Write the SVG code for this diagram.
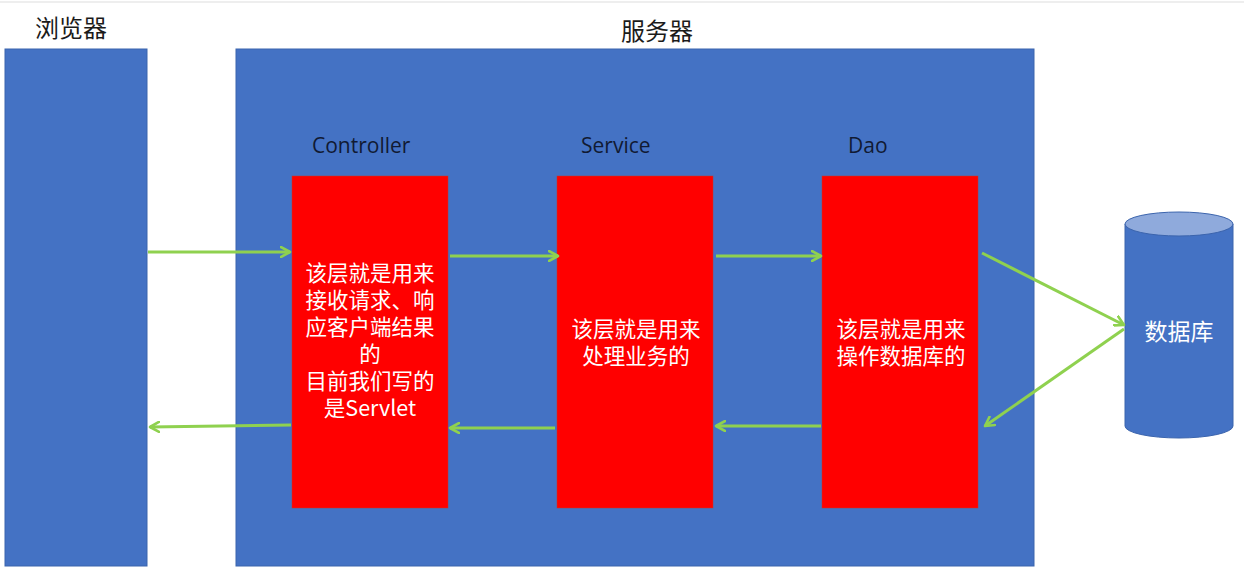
<svg xmlns="http://www.w3.org/2000/svg" width="1244" height="572" viewBox="0 0 1244 572">
<style>
.blue{fill:#4472c4;stroke:#3b64ad;stroke-width:1}
.red{fill:#ff0000;stroke:#c0392b;stroke-width:0.5}
.hdr{font-family:"Liberation Sans","Noto Sans CJK SC",sans-serif;font-size:24px;fill:#1b1b1b}
.lbl{font-family:"Open Sans","Liberation Sans",sans-serif;font-size:21px;fill:#111a33}
.wt{font-family:"Noto Sans CJK SC",sans-serif;font-size:21.5px;fill:#ffffff;text-anchor:middle}
.arr{stroke:#8fd14f;stroke-width:3;fill:none;marker-end:url(#ah)}
</style>
<defs>
<marker id="ah" viewBox="0 0 12 12" refX="10" refY="6" markerWidth="12" markerHeight="12" markerUnits="userSpaceOnUse" orient="auto">
<polyline points="1,1 10,6 1,11" fill="none" stroke="#8fd14f" stroke-width="2.6" stroke-linecap="round" stroke-linejoin="round"/>
</marker>
</defs>
<rect x="0" y="0" width="1244" height="572" fill="#ffffff"/>
<line x1="0" y1="2" x2="1244" y2="2" stroke="#eeeeee" stroke-width="2"/>
<g id="browser">
<rect class="blue" x="5" y="49" width="142" height="517"/>
<text class="hdr" x="35" y="37">浏览器</text>
</g>
<g id="server">
<rect class="blue" x="236" y="49" width="798" height="517"/>
<text class="hdr" x="621" y="40">服务器</text>
</g>
<g id="controller">
<text class="lbl" x="312" y="153">Controller</text>
<rect class="red" x="292" y="176" width="156" height="332"/>
<text class="wt" x="370" y="281">该层就是用来</text>
<text class="wt" x="370" y="308">接收请求、响</text>
<text class="wt" x="370" y="335">应客户端结果</text>
<text class="wt" x="370" y="362">的</text>
<text class="wt" x="370" y="389">目前我们写的</text>
<text class="wt" x="370" y="416">是Servlet</text>
</g>
<g id="service">
<text class="lbl" x="581" y="153">Service</text>
<rect class="red" x="557" y="176" width="156" height="332"/>
<text class="wt" x="636" y="337">该层就是用来</text>
<text class="wt" x="636" y="364">处理业务的</text>
</g>
<g id="dao">
<text class="lbl" x="848" y="153">Dao</text>
<rect class="red" x="822" y="176" width="156" height="332"/>
<text class="wt" x="901" y="337">该层就是用来</text>
<text class="wt" x="901" y="364">操作数据库的</text>
</g>
<g id="database">
<path d="M1125,224 L1125,426 A54,12 0 0 0 1233,426 L1233,224" fill="#4472c4" stroke="#3b64ad" stroke-width="1"/>
<ellipse cx="1179" cy="224" rx="54" ry="12" fill="#8faadc" stroke="#3b64ad" stroke-width="1"/>
<text x="1179" y="340" font-family="Noto Sans CJK SC,sans-serif" font-size="23" fill="#ffffff" text-anchor="middle">数据库</text>
</g>
<g id="connectors">
<line class="arr" x1="148" y1="252" x2="290" y2="252"/>
<line class="arr" x1="450" y1="256" x2="558" y2="256"/>
<line class="arr" x1="716" y1="256" x2="821" y2="256"/>
<line class="arr" x1="982" y1="253" x2="1124" y2="325"/>
<line class="arr" x1="1124" y1="329" x2="985" y2="426"/>
<line class="arr" x1="291" y1="425" x2="150" y2="427"/>
<line class="arr" x1="555" y1="428" x2="450" y2="428"/>
<line class="arr" x1="821" y1="426" x2="716" y2="426"/>
</g>
</svg>
